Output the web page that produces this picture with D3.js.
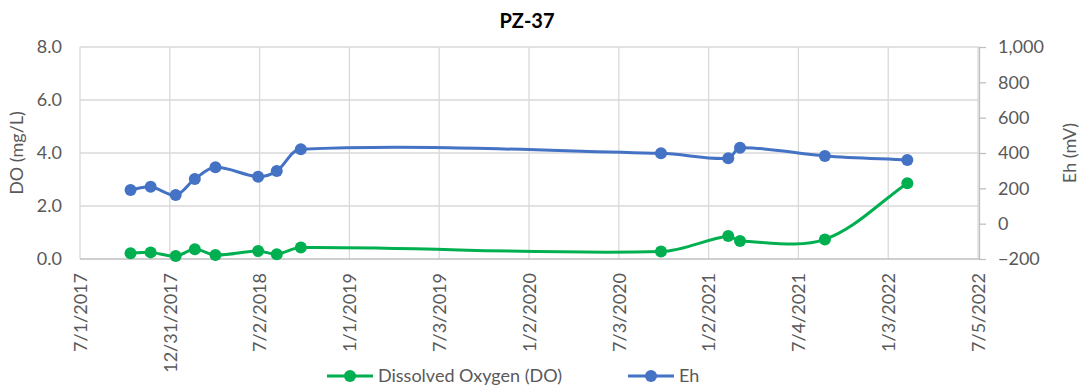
<!DOCTYPE html>
<html>
<head>
<meta charset="utf-8">
<script src="https://cdn.jsdelivr.net/npm/d3@7"></script>
<style>
  body { margin: 0; background: #fff; }
  text { font-family: Lato, "Open Sans", sans-serif; fill: #595959; }
</style>
</head>
<body>
<svg id="chart" width="1090" height="389"></svg>
<script>
// Sampling dates for well PZ-37
const sampleDates = [
  "2017-10-12", "2017-11-22", "2018-01-12", "2018-02-20", "2018-04-03",
  "2018-06-29", "2018-08-06", "2018-09-24", "2020-09-27", "2021-02-11",
  "2021-03-07", "2021-08-27", "2022-02-11"
];
// Dissolved oxygen, mg/L
const doValues = [0.22, 0.25, 0.11, 0.37, 0.15, 0.30, 0.18, 0.43, 0.28, 0.87, 0.68, 0.74, 2.86];
// Redox potential, mV
const ehValues = [190, 209, 162, 253, 319, 266, 298, 421, 398, 370, 430, 383, 360];

const xTickLabels = ["7/1/2017", "12/31/2017", "7/2/2018", "1/1/2019", "7/3/2019", "1/2/2020",
  "7/3/2020", "1/2/2021", "7/4/2021", "1/3/2022", "7/5/2022"];
const doTicks = [0, 2, 4, 6, 8];
const ehTicks = [-200, 0, 200, 400, 600, 800, 1000];

const seriesNames = ["Dissolved Oxygen (DO)", "Eh"];
const seriesColors = ["#00B050", "#4472C4"];

const parseDate = d3.utcParse("%Y-%m-%d");
const parseTick = d3.utcParse("%m/%d/%Y");

const svg = d3.select("#chart");
const plot = { left: 80, right: 978, top: 47, bottom: 259 };

const x = d3.scaleUtc()
  .domain([parseTick(xTickLabels[0]), parseTick(xTickLabels[xTickLabels.length - 1])])
  .range([plot.left, plot.right]);
const yDo = d3.scaleLinear().domain([0, 8]).range([plot.bottom, plot.top]);
const yEh = d3.scaleLinear().domain([-200, 1000]).range([plot.bottom, plot.top]);

// Smoothed path: cubic Bezier through each point, tangent parallel to the
// neighbouring chord, handle length split by the adjacent segment lengths.
function smoothPath(p) {
  const path = d3.path();
  const n = p.length;
  const dist = (a, b) => Math.hypot(b[0] - a[0], b[1] - a[1]);
  const handles = p.map((pt, i) => {
    const prev = p[Math.max(i - 1, 0)], next = p[Math.min(i + 1, n - 1)];
    const tx = next[0] - prev[0], ty = next[1] - prev[1];
    const dm = i > 0 ? dist(prev, pt) : 0, dp = i < n - 1 ? dist(pt, next) : 0;
    const sum = dm + dp || 1;
    const isEnd = i === 0 || i === n - 1;
    const kIn = isEnd ? 1 / 3 : dm / sum / 3;
    const kOut = isEnd ? 1 / 3 : dp / sum / 3;
    return {
      inX: pt[0] - tx * kIn, inY: pt[1] - ty * kIn,
      outX: pt[0] + tx * kOut, outY: pt[1] + ty * kOut
    };
  });
  path.moveTo(p[0][0], p[0][1]);
  for (let i = 0; i < n - 1; i++) {
    path.bezierCurveTo(handles[i].outX, handles[i].outY,
      handles[i + 1].inX, handles[i + 1].inY, p[i + 1][0], p[i + 1][1]);
  }
  return path.toString();
}

// Gridlines
const grid = svg.append("g").attr("stroke", "#D9D9D9").attr("stroke-width", 1.3);
grid.selectAll("line.h").data(doTicks.filter(d => d > 0)).join("line")
  .attr("x1", plot.left).attr("x2", plot.right + 1)
  .attr("y1", d => yDo(d)).attr("y2", d => yDo(d));
grid.selectAll("line.v").data(xTickLabels).join("line")
  .attr("x1", d => x(parseTick(d))).attr("x2", d => x(parseTick(d)))
  .attr("y1", plot.top).attr("y2", plot.bottom);

// Bottom axis line
svg.append("line")
  .attr("x1", plot.left).attr("x2", plot.right + 1)
  .attr("y1", plot.bottom).attr("y2", plot.bottom)
  .attr("stroke", "#BFBFBF").attr("stroke-width", 1.3);

// Left axis (labels only)
const leftAxis = svg.append("g")
  .attr("transform", `translate(${plot.left},0)`)
  .call(d3.axisLeft(yDo).tickValues(doTicks).tickFormat(d3.format(".1f")).tickSize(0).tickPadding(18));
leftAxis.select(".domain").remove();
leftAxis.selectAll("text").style("font-size", "18px").attr("fill", "#595959");

// Right axis with outward ticks
const rightAxis = svg.append("g")
  .attr("transform", `translate(${plot.right + 1},0)`)
  .call(d3.axisRight(yEh).tickValues(ehTicks).tickFormat(d3.format(",")).tickSize(7).tickSizeOuter(0).tickPadding(12));
rightAxis.select(".domain").attr("stroke", "#BFBFBF").attr("stroke-width", 1.3);
rightAxis.selectAll(".tick line").attr("stroke", "#BFBFBF").attr("stroke-width", 1.3);
rightAxis.selectAll("text").style("font-size", "18px").attr("fill", "#595959");

// Bottom axis labels, rotated
const bottomAxis = svg.append("g")
  .attr("transform", `translate(0,${plot.bottom})`)
  .call(d3.axisBottom(x).tickValues(xTickLabels.map(parseTick))
    .tickFormat((d, i) => xTickLabels[i]).tickSize(0));
bottomAxis.select(".domain").remove();
bottomAxis.selectAll("text")
  .style("font-size", "18px").attr("fill", "#595959")
  .attr("text-anchor", "end")
  .attr("transform", "rotate(-90)")
  .attr("x", -14).attr("y", 0).attr("dy", "0.35em");

// Series lines and markers
const series = [doValues.map((v, i) => ({ date: parseDate(sampleDates[i]), value: v })),
                ehValues.map((v, i) => ({ date: parseDate(sampleDates[i]), value: v }))];
const yScales = [yDo, yEh];

series.forEach((pts, s) => {
  const xy = pts.map(d => [x(d.date), yScales[s](d.value)]);
  const g = svg.append("g");
  g.append("path")
    .attr("d", smoothPath(xy)).attr("fill", "none")
    .attr("stroke", seriesColors[s]).attr("stroke-width", 3).attr("stroke-linejoin", "round");
  g.selectAll("circle").data(pts).join("circle")
    .attr("cx", d => x(d.date)).attr("cy", d => yScales[s](d.value))
    .attr("r", 6).attr("fill", seriesColors[s]);
});

// Title
svg.append("text").attr("x", 527).attr("y", 28)
  .attr("text-anchor", "middle")
  .style("font-size", "20px").style("font-weight", "bold").style("fill", "#000")
  .text("PZ-37");

// Axis titles
svg.append("text")
  .attr("transform", `translate(17,${(plot.top + plot.bottom) / 2}) rotate(-90)`)
  .attr("text-anchor", "middle").attr("dy", "0.35em")
  .style("font-size", "18px").text("DO (mg/L)");
svg.append("text")
  .attr("transform", `translate(1070,${(plot.top + plot.bottom) / 2}) rotate(-90)`)
  .attr("text-anchor", "middle").attr("dy", "0.35em")
  .style("font-size", "18px").text("Eh (mV)");

// Legend
const legendItems = [{ x: 327, textX: 378 }, { x: 628, textX: 679 }];
const legend = svg.append("g");
legendItems.forEach((item, i) => {
  const ly = 376;
  legend.append("line").attr("x1", item.x).attr("x2", item.x + 46)
    .attr("y1", ly).attr("y2", ly)
    .attr("stroke", seriesColors[i]).attr("stroke-width", 3);
  legend.append("circle").attr("cx", item.x + 23).attr("cy", ly).attr("r", 6).attr("fill", seriesColors[i]);
  legend.append("text").attr("x", item.textX).attr("y", ly).attr("dy", "0.35em")
    .style("font-size", "18px").text(seriesNames[i]);
});
</script>
</body>
</html>
